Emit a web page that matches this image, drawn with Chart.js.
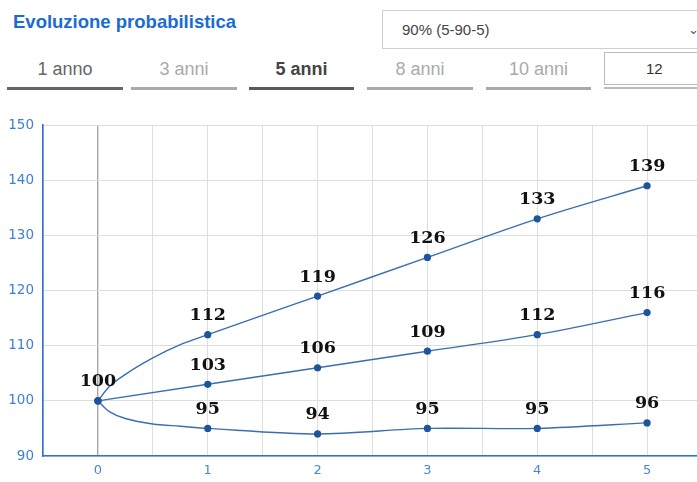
<!DOCTYPE html>
<html>
<head>
<meta charset="utf-8">
<script src="https://cdn.jsdelivr.net/npm/chart.js@4/dist/chart.umd.min.js"></script>
<style>
  html, body { margin: 0; padding: 0; background: #fff; overflow: hidden; }
  body { width: 697px; height: 482px; position: relative; font-family: "Liberation Sans", Arial, sans-serif; }
  .title { position: absolute; left: 13px; top: 12px; font-size: 18.5px; line-height: 20px; font-weight: bold; color: #1a6cd0; white-space: nowrap; }
  .select { position: absolute; left: 382px; top: 10px; width: 330px; height: 39px; box-sizing: border-box;
            border: 1px solid #cfcfcf; font-size: 15px; color: #444; line-height: 37px; padding-left: 19px; }
  .select .chev { position: absolute; left: 305px; top: 0; font-size: 13px; color: #555; }
  .tab { position: absolute; top: 56px; height: 34px; text-align: center; font-size: 18px; line-height: 26px; color: #aaa; }
  .tab::after { content: ""; position: absolute; left: 0; right: 0; bottom: 0; height: 3px; background: #a9a9a9; }
  .tab.dark { color: #666; }
  .tab.dark::after { background: #666; }
  .tab.active { color: #444; font-weight: bold; }
  .tab.active::after { background: #5a5a5a; }
  .numbox { position: absolute; left: 604px; top: 52px; width: 110px; height: 33px; box-sizing: border-box;
            border: 1px solid #bbb; font-size: 15px; color: #333; line-height: 31px; padding-left: 41px; }
  .numline { position: absolute; left: 604px; top: 87px; width: 100px; height: 2px; background: #bbb; }
  .chartwrap { position: absolute; left: 0; top: 108px; width: 709px; height: 374px; }
</style>
</head>
<body>
  <div class="title">Evoluzione probabilistica</div>
  <div class="select">90% (5-90-5)<span class="chev">&#8964;</span></div>
  <div class="tab dark" style="left:7px;width:116px;">1 anno</div>
  <div class="tab" style="left:131px;width:106px;">3 anni</div>
  <div class="tab active" style="left:249px;width:105px;">5 anni</div>
  <div class="tab" style="left:367px;width:106px;">8 anni</div>
  <div class="tab" style="left:486px;width:105px;">10 anni</div>
  <div class="numbox">12</div>
  <div class="numline"></div>
  <div class="chartwrap"><canvas id="chart" width="709" height="374"></canvas></div>

<script>
// Horizon in years and the three percentile paths (5%, 50%, 95%)
const years = [0, 1, 2, 3, 4, 5];
const upperValues = [100, 112, 119, 126, 133, 139];
const medianValues = [100, 103, 106, 109, 112, 116];
const lowerValues = [100, 95, 94, 95, 95, 96];

// Intermediate readings along the first year, where the paths bend fastest
const earlyYears = [0.1, 0.25, 0.5, 0.75];
const upperEarly = [102.5, 104.8, 107.8, 110.2];
const lowerEarly = [98.1, 96.8, 95.8, 95.4];

// Axis ticks
const yTicks = [90, 100, 110, 120, 130, 140, 150];
const xTickLabels = ['0', '1', '2', '3', '4', '5'];

function buildPoints(values, extraX, extraY) {
  const pts = years.map((x, i) => ({ x, y: values[i], labelled: true }));
  if (extraX) extraX.forEach((x, i) => pts.push({ x, y: extraY[i], labelled: false }));
  return pts.sort((a, b) => a.x - b.x);
}

const lineColor = '#3a6eb2';
const pointColor = '#1d559c';
const axisBlue = '#2f74cf';

function makeDataset(points, showFirstLabel, smooth) {
  return {
    data: points,
    borderColor: lineColor,
    borderWidth: 1.4,
    backgroundColor: pointColor,
    pointBackgroundColor: pointColor,
    pointBorderWidth: 0,
    pointRadius: ctx => (ctx.raw && ctx.raw.labelled ? 3.6 : 0),
    pointHoverRadius: 0,
    cubicInterpolationMode: smooth === 'monotone' ? 'monotone' : 'default',
    tension: smooth === 'monotone' ? 0 : 0.3,
    showFirstLabel,
    clip: false
  };
}

// Draws the rounded value above each yearly point
const valueLabels = {
  id: 'valueLabels',
  afterDatasetsDraw(chart) {
    const ctx = chart.ctx;
    ctx.save();
    ctx.font = 'bold 17.5px "DejaVu Serif", serif';
    ctx.fillStyle = '#111';
    ctx.textAlign = 'center';
    ctx.textBaseline = 'middle';
    chart.data.datasets.forEach((ds, di) => {
      const meta = chart.getDatasetMeta(di);
      ds.data.forEach((p, i) => {
        if (!p.labelled) return;
        if (p.x === 0 && !ds.showFirstLabel) return;
        const el = meta.data[i];
        ctx.fillText(String(p.y), el.x, el.y - 19);
      });
    });
    ctx.restore();
  }
};

const chart = new Chart(document.getElementById('chart'), {
  type: 'line',
  data: {
    datasets: [
      makeDataset(buildPoints(upperValues, earlyYears, upperEarly), true, 'monotone'),
      makeDataset(buildPoints(medianValues), false, 'monotone'),
      makeDataset(buildPoints(lowerValues, earlyYears, lowerEarly), false, 'bezier')
    ]
  },
  options: {
    responsive: false,
    animation: false,
    devicePixelRatio: 1,
    layout: { padding: { top: 13, right: 0, left: 0, bottom: 0 } },
    plugins: { legend: { display: false }, tooltip: { enabled: false } },
    scales: {
      x: {
        type: 'linear',
        min: -0.5,
        max: 5.5,
        afterFit(scale) { scale.height = 26; },
        afterBuildTicks(scale) {
          const t = [];
          for (let v = -0.5; v <= 5.5001; v += 0.5) t.push({ value: Math.round(v * 10) / 10 });
          scale.ticks = t;
        },
        ticks: {
          autoSkip: false,
          maxRotation: 0,
          padding: 7,
          color: '#4a86d8',
          font: { family: '"DejaVu Sans", Verdana, sans-serif', size: 13 },
          callback: v => (Number.isInteger(v) && v >= 0 && v <= 5 ? xTickLabels[v] : '')
        },
        grid: {
          drawTicks: false,
          color: ctx => (ctx.tick && ctx.tick.value === 0 ? '#a8a8a8' : '#dedede'),
          lineWidth: ctx => (ctx.tick && ctx.tick.value === 0 ? 1.4 : 1)
        },
        border: { color: axisBlue, width: 1.6 }
      },
      y: {
        min: 90,
        max: 150,
        afterFit(scale) { scale.width = 43; },
        afterBuildTicks(scale) { scale.ticks = yTicks.map(v => ({ value: v })); },
        ticks: {
          padding: 9,
          color: '#3f7fd6',
          font: { family: '"DejaVu Sans", Verdana, sans-serif', size: 13.5 }
        },
        grid: { drawTicks: false, color: '#dedede' },
        border: { color: axisBlue, width: 1.6 }
      }
    }
  },
  plugins: [valueLabels]
});
</script>
</body>
</html>
